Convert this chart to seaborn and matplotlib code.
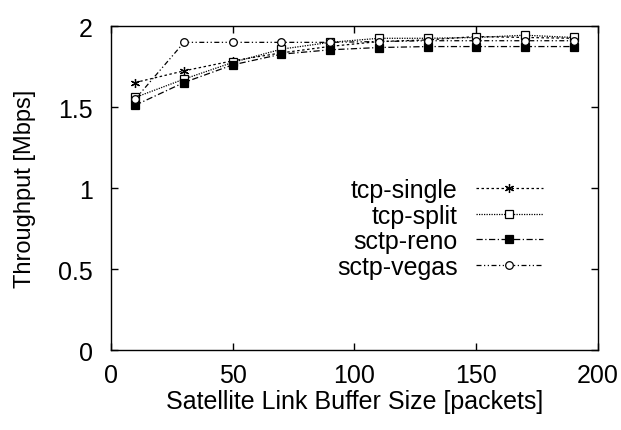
import matplotlib
matplotlib.use("Agg")
import matplotlib.pyplot as plt
import seaborn as sns
import pandas as pd

buffer_sizes = [10, 30, 50, 70, 90, 110, 130, 150, 170, 190]
tcp_single = [1.652, 1.724, 1.786, 1.835, 1.875, 1.905, 1.915, 1.936, 1.930, 1.925]
tcp_split = [1.560, 1.673, 1.776, 1.858, 1.900, 1.925, 1.925, 1.930, 1.944, 1.930]
sctp_reno = [1.512, 1.652, 1.761, 1.827, 1.854, 1.868, 1.874, 1.874, 1.874, 1.874]
sctp_vegas = [1.550, 1.900, 1.900, 1.900, 1.900, 1.905, 1.910, 1.910, 1.910, 1.910]
series_names = ["tcp-single", "tcp-split", "sctp-reno", "sctp-vegas"]
x_ticks = [0, 50, 100, 150, 200]
y_ticks = [0, 0.5, 1, 1.5, 2]
y_tick_labels = ["0", "0.5", "1", "1.5", "2"]

series_values = [tcp_single, tcp_split, sctp_reno, sctp_vegas]

sns.set_theme(style="ticks")
plt.rcParams["font.family"] = ["Liberation Sans", "DejaVu Sans"]
plt.rcParams["text.color"] = "black"
plt.rcParams["axes.labelcolor"] = "black"

fig = plt.figure(figsize=(6.21, 4.31), dpi=100)
ax = fig.add_axes([0.1787, 0.1856, 0.7843, 0.7514])

styles = {
    "tcp-single": dict(dashes=(2, 2), marker=(6, 2, 0), mfc="black", ms=6.5),
    "tcp-split": dict(dashes=(1, 1), marker="s", mfc="white", ms=5.5),
    "sctp-reno": dict(dashes=(5, 2, 1, 2), marker="s", mfc="black", ms=5.5),
    "sctp-vegas": dict(dashes=(4, 2, 1, 2, 1, 2), marker="o", mfc="white", ms=5.5),
}

for name, vals in zip(series_names, series_values):
    d = pd.DataFrame({"buffer": buffer_sizes, "throughput": vals})
    st = styles[name]
    sns.lineplot(data=d, x="buffer", y="throughput", ax=ax, color="black",
                 linewidth=0.9, marker=st["marker"], markersize=st["ms"],
                 markerfacecolor=st["mfc"], markeredgecolor="black",
                 markeredgewidth=0.9, dashes=st["dashes"], label=name)

handles = ax.get_lines()[:4]
leg = ax.legend(handles, series_names, loc="upper right", bbox_to_anchor=(0.907, 0.562),
                frameon=False, markerfirst=False, fontsize=18, handlelength=2.68,
                labelspacing=0.06, handletextpad=0.72, borderaxespad=0)
for t in leg.get_texts():
    t.set_color("black")

ax.set_xlim(0, 200)
ax.set_ylim(0, 2)
ax.set_xticks(x_ticks)
ax.set_yticks(y_ticks)
ax.set_yticklabels(y_tick_labels)
ax.tick_params(direction="in", top=True, right=True, labelsize=18, length=5,
               width=1, color="black", labelcolor="black")
ax.tick_params(axis="x", pad=9)
ax.tick_params(axis="y", pad=13)
for s in ax.spines.values():
    s.set_visible(True)
    s.set_color("black")
    s.set_linewidth(1)
ax.set_xlabel("Satellite Link Buffer Size [packets]", fontsize=18, labelpad=2)
ax.set_ylabel("Throughput [Mbps]", fontsize=17, labelpad=16)

fig.savefig("out.png", dpi=100)
